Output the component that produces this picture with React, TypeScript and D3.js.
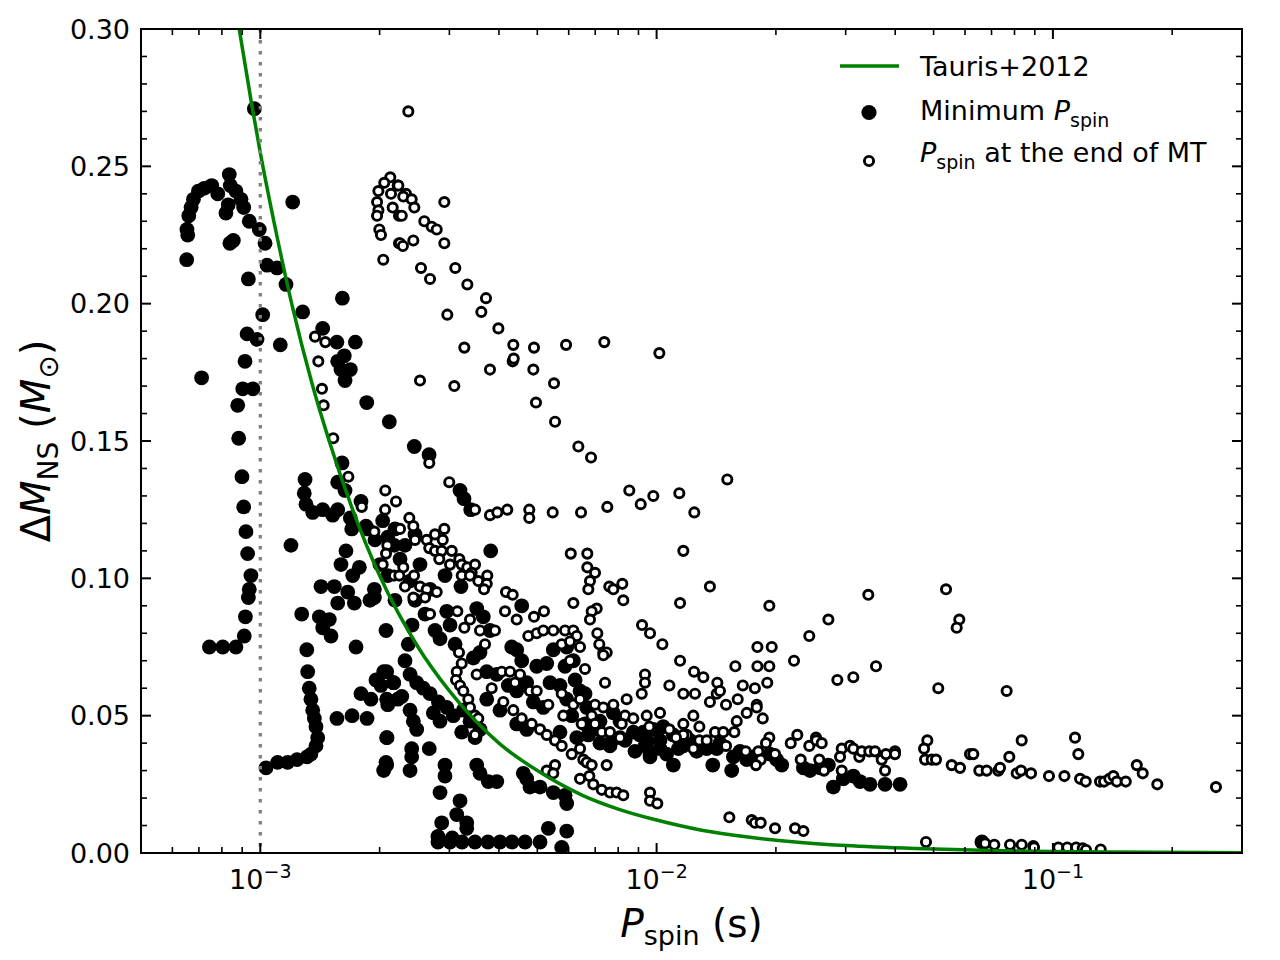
import * as d3 from "d3";

// P_spin in ms, Delta M_NS in M_sun
type Pt = [number, number];

// Minimum P_spin, track near 1 ms
const minSpinNear1ms: Pt[] = [
  [0.966, 0.271], [0.652, 0.216], [0.656, 0.225], [0.653, 0.227], [0.66, 0.232], [0.669, 0.235],
  [0.678, 0.238], [0.698, 0.241], [0.722, 0.242], [0.754, 0.243], [0.781, 0.24], [0.835, 0.247],
  [0.84, 0.243], [0.868, 0.241], [0.894, 0.238], [0.908, 0.235], [0.819, 0.233], [0.83, 0.236],
  [0.855, 0.223], [0.838, 0.222], [0.938, 0.23], [0.994, 0.227], [1.028, 0.222], [1.04, 0.214],
  [1.102, 0.213], [1.161, 0.207], [0.933, 0.209], [1.207, 0.237], [1.611, 0.202], [1.014, 0.196],
  [1.279, 0.197], [0.926, 0.189], [0.981, 0.187], [1.123, 0.185], [1.437, 0.191], [1.561, 0.186],
  [1.737, 0.186], [0.915, 0.179], [0.711, 0.173], [0.903, 0.169], [0.958, 0.169], [0.877, 0.163],
  [0.882, 0.151], [0.899, 0.137], [0.908, 0.126], [0.92, 0.117], [0.929, 0.109], [0.947, 0.101],
  [0.938, 0.096], [0.933, 0.093], [0.917, 0.086], [0.911, 0.079], [0.868, 0.075], [0.804, 0.075],
  [0.744, 0.075],
];

// Minimum P_spin, 1.2-2.2 ms
const minSpinBand: Pt[] = [
  [1.568, 0.179], [1.629, 0.181], [1.598, 0.176], [1.687, 0.176], [1.636, 0.172], [1.856, 0.164],
  [2.116, 0.157], [1.608, 0.142], [1.297, 0.136], [1.568, 0.135], [1.636, 0.132], [1.291, 0.131],
  [1.304, 0.127], [1.356, 0.124], [1.437, 0.125], [1.523, 0.123], [1.568, 0.125], [1.687, 0.122],
  [1.795, 0.128], [1.701, 0.118], [1.866, 0.118], [1.195, 0.112], [1.645, 0.11], [1.598, 0.105],
  [1.778, 0.104], [1.711, 0.101], [1.423, 0.097], [1.537, 0.097], [1.662, 0.095], [1.94, 0.096],
  [2.097, 0.101], [2.178, 0.112], [2.097, 0.115], [2.036, 0.121], [1.272, 0.087], [1.409, 0.086],
  [1.493, 0.085], [1.437, 0.082], [1.508, 0.079], [1.568, 0.091], [1.727, 0.091], [1.94, 0.093],
  [2.076, 0.081], [1.744, 0.075],
  [1.31, 0.074], [1.317, 0.066], [1.329, 0.06], [1.342, 0.056], [1.356, 0.052], [1.369, 0.049],
  [1.382, 0.046], [1.396, 0.042], [1.382, 0.039], [1.342, 0.036], [1.312, 0.035], [1.238, 0.034],
  [1.172, 0.033], [1.106, 0.033], [1.034, 0.031],
  [1.561, 0.049], [1.704, 0.05], [1.859, 0.049], [1.795, 0.058], [1.902, 0.056], [2.016, 0.061],
  [1.958, 0.063], [2.048, 0.066], [2.171, 0.062], [2.097, 0.054], [2.222, 0.056], [2.088, 0.042],
  [2.076, 0.033], [2.048, 0.03],
];

// Minimum P_spin, 2-4 ms
const minSpinCluster: Pt[] = [
  [2.447, 0.148], [2.666, 0.145], [3.191, 0.132], [3.266, 0.129], [3.396, 0.125], [3.814, 0.11],
  [2.925, 0.101], [3.209, 0.097], [4.567, 0.09], [3.517, 0.089], [3.653, 0.086], [2.954, 0.088],
  [1.848, 0.119], [1.947, 0.114], [2.187, 0.118], [2.318, 0.112], [2.457, 0.116], [2.252, 0.107],
  [2.529, 0.105], [2.387, 0.099], [2.681, 0.096], [2.457, 0.092], [2.604, 0.087], [2.415, 0.083],
  [2.76, 0.081], [2.187, 0.092], [1.891, 0.092], [2.004, 0.105], [3.011, 0.083], [2.841, 0.078],
  [2.363, 0.076], [2.318, 0.07], [2.387, 0.065], [2.481, 0.062], [2.578, 0.06], [2.681, 0.058],
  [2.814, 0.055], [2.954, 0.053], [3.069, 0.05], [2.841, 0.048], [2.733, 0.051], [2.084, 0.066],
  [2.166, 0.062], [2.084, 0.056], [2.275, 0.057], [2.387, 0.052], [2.433, 0.048], [2.481, 0.045],
  [2.084, 0.042], [2.41, 0.038], [2.669, 0.038], [2.41, 0.035], [2.084, 0.032], [2.387, 0.03],
  [2.924, 0.032], [2.924, 0.028], [2.841, 0.022], [3.191, 0.019], [3.516, 0.032], [3.584, 0.029],
  [3.761, 0.026], [3.951, 0.026],
  [2.869, 0.011], [3.131, 0.014], [3.318, 0.011], [3.318, 0.009], [5.331, 0.009], [5.932, 0.008],
  [5.761, 0.002], [2.807, 0.004], [3.01, 0.004], [3.228, 0.004], [3.481, 0.004], [3.753, 0.004],
  [4.025, 0.004], [4.316, 0.004], [4.656, 0.004], [5.08, 0.004], [2.807, 0.006], [3.05, 0.0055],
];

// Minimum P_spin, 4-10 ms
const minSpinMid: Pt[] = [
  [4.609, 0.029], [4.791, 0.024], [5.078, 0.024], [5.487, 0.022], [5.874, 0.021], [5.932, 0.018],
  [4.701, 0.027], [3.1, 0.076], [3.448, 0.071], [3.584, 0.073], [3.798, 0.081], [4.309, 0.075],
  [4.567, 0.07], [4.983, 0.068], [5.281, 0.069], [3.951, 0.065], [3.727, 0.066], [4.224, 0.061],
  [4.436, 0.059], [4.701, 0.062], [4.886, 0.055], [5.177, 0.053], [5.383, 0.062], [5.704, 0.061],
  [5.932, 0.056], [6.409, 0.059], [6.663, 0.053], [6.165, 0.07], [5.932, 0.075], [4.025, 0.052],
  [4.436, 0.047], [4.701, 0.045], [5.704, 0.044], [6.288, 0.042], [6.725, 0.043], [7.776, 0.051],
  [8.085, 0.042], [8.735, 0.044], [9.441, 0.04], [9.625, 0.036], [3.727, 0.056], [3.253, 0.052],
  [3.382, 0.048], [3.584, 0.045], [3.223, 0.044], [3.482, 0.042], [5.487, 0.074], [4.436, 0.074],
  [5.874, 0.068], [6.227, 0.063], [6.597, 0.058], [7.196, 0.048], [8.085, 0.048], [9.081, 0.043],
  [7.196, 0.04], [7.626, 0.039], [8.326, 0.041], [8.822, 0.037], [6.106, 0.05], [6.597, 0.047],
  [7.112, 0.045], [7.72, 0.041], [9.348, 0.039],
];

// Minimum P_spin, 10-70 ms
const minSpinLong: Pt[] = [
  [9.441, 0.041], [9.625, 0.035], [10.2, 0.041], [11.02, 0.032], [10.6, 0.036], [11.68, 0.039],
  [12.14, 0.041], [12.62, 0.037], [13.38, 0.038], [14.18, 0.038], [14.45, 0.04], [15.47, 0.03],
  [15.62, 0.035], [16.23, 0.037], [16.88, 0.034], [17.54, 0.035], [19.32, 0.036], [20.69, 0.032],
  [20.09, 0.034], [23.46, 0.031], [24.38, 0.03], [25.84, 0.031], [27.13, 0.032], [27.92, 0.024],
  [29.58, 0.027], [31.36, 0.028], [32.61, 0.026], [34.55, 0.025], [37.71, 0.025], [41.14, 0.025],
  [9.257, 0.044], [9.811, 0.045], [10.39, 0.046], [11.02, 0.043], [11.35, 0.038], [13.86, 0.032],
  [10.2, 0.038], [66.2, 0.004],
];

// P_spin at the end of mass transfer, short periods
const endSpinShort: Pt[] = [
  [2.128, 0.246], [2.055, 0.244], [1.986, 0.241], [1.971, 0.237], [1.986, 0.234], [1.971, 0.232],
  [1.997, 0.227], [2.016, 0.225], [2.043, 0.216], [2.137, 0.24], [2.158, 0.235], [2.222, 0.243],
  [2.239, 0.232], [2.239, 0.222], [1.374, 0.188], [1.459, 0.186], [2.363, 0.27], [2.23, 0.243],
  [2.331, 0.24], [2.295, 0.239], [2.41, 0.238], [2.447, 0.235], [2.275, 0.232], [2.913, 0.237],
  [2.593, 0.23], [2.707, 0.228], [2.787, 0.227], [2.252, 0.222], [2.29, 0.221], [2.433, 0.223],
  [2.913, 0.222], [2.544, 0.213], [3.105, 0.213], [2.681, 0.209], [3.33, 0.207], [3.711, 0.202],
  [2.964, 0.196], [3.612, 0.197], [3.988, 0.191], [3.272, 0.184], [4.349, 0.185], [4.905, 0.184],
  [5.909, 0.185], [7.379, 0.186], [10.16, 0.182], [4.334, 0.179], [4.36, 0.18], [3.798, 0.176],
  [4.886, 0.176], [5.51, 0.171], [2.529, 0.172], [3.087, 0.17], [4.962, 0.164], [5.543, 0.157],
  [6.346, 0.148], [6.832, 0.144], [2.669, 0.142], [2.998, 0.135], [2.067, 0.132], [2.2, 0.128],
  [2.065, 0.125], [2.377, 0.122], [2.433, 0.119], [3.482, 0.125], [3.798, 0.123], [3.963, 0.124],
  [4.2, 0.125], [4.772, 0.125], [4.772, 0.122], [5.468, 0.124], [6.447, 0.124], [7.509, 0.126],
  [8.533, 0.132], [9.118, 0.127], [9.811, 0.13], [6.073, 0.109], [6.686, 0.109], [6.686, 0.104],
  [6.992, 0.102], [6.79, 0.099], [6.725, 0.096], [7.597, 0.097], [7.776, 0.096], [8.194, 0.098],
  [8.241, 0.092], [6.165, 0.091], [7.061, 0.089], [6.858, 0.088], [6.79, 0.085], [9.189, 0.083],
  [1.401, 0.179], [1.431, 0.169], [1.445, 0.163], [1.528, 0.151], [1.668, 0.137], [1.803, 0.126],
  [1.94, 0.117], [2.23, 0.118],
];

// P_spin at the end of mass transfer, dense cluster 2-10 ms
const endSpinCluster: Pt[] = [
  [2.252, 0.118], [2.457, 0.114], [2.63, 0.114], [2.76, 0.116], [2.913, 0.118], [2.886, 0.114],
  [2.669, 0.111], [2.76, 0.11], [2.869, 0.11], [3.041, 0.11], [2.829, 0.107], [3.178, 0.107],
  [3.011, 0.105], [3.223, 0.105], [3.33, 0.104], [3.482, 0.105], [3.415, 0.102], [3.739, 0.101],
  [3.223, 0.101], [3.382, 0.101], [3.549, 0.099], [3.727, 0.098], [3.669, 0.096], [4.169, 0.095],
  [4.334, 0.094], [2.092, 0.112], [2.076, 0.109], [2.036, 0.105], [2.295, 0.104], [2.175, 0.101],
  [2.243, 0.101], [2.443, 0.101], [2.318, 0.097], [2.529, 0.097], [2.63, 0.096], [2.433, 0.093],
  [2.604, 0.093], [2.787, 0.095], [4.145, 0.088], [3.142, 0.088], [2.681, 0.087], [4.436, 0.085],
  [4.905, 0.086], [5.198, 0.088], [3.382, 0.085],
  [3.272, 0.082], [3.584, 0.081], [3.91, 0.081], [3.69, 0.076], [3.172, 0.073], [3.223, 0.069],
  [3.131, 0.066], [3.118, 0.063], [3.191, 0.061], [3.253, 0.059], [3.349, 0.056], [3.382, 0.053],
  [3.482, 0.05], [3.549, 0.049], [3.482, 0.043], [3.516, 0.065], [3.836, 0.06], [4.066, 0.066],
  [4.267, 0.066], [4.392, 0.062], [4.521, 0.065], [4.104, 0.055], [4.349, 0.052], [4.567, 0.049],
  [4.84, 0.047], [5.08, 0.045], [5.281, 0.043], [5.542, 0.041], [5.761, 0.039], [6.107, 0.036],
  [6.409, 0.038], [6.531, 0.034], [6.663, 0.033], [6.858, 0.032], [7.482, 0.032], [5.542, 0.032],
  [5.281, 0.03], [5.487, 0.029], [6.409, 0.027], [6.765, 0.028], [6.923, 0.025], [7.27, 0.023],
  [7.626, 0.022], [7.93, 0.022], [8.241, 0.021], [9.625, 0.022], [9.625, 0.019], [10.04, 0.018],
  [4.745, 0.079], [4.983, 0.08], [5.177, 0.081], [5.487, 0.081], [5.874, 0.081], [6.165, 0.081],
  [6.288, 0.079], [5.761, 0.076], [6.046, 0.077], [6.409, 0.075], [7.087, 0.08], [7.169, 0.076],
  [7.338, 0.073], [7.482, 0.073], [6.046, 0.07], [6.597, 0.067], [7.411, 0.062], [8.404, 0.056],
  [9.172, 0.058], [9.348, 0.065], [9.348, 0.062], [9.625, 0.08], [4.788, 0.059], [4.983, 0.059],
  [5.331, 0.054], [5.761, 0.058], [5.815, 0.05], [6.165, 0.054], [6.409, 0.056], [6.471, 0.047],
  [6.858, 0.05], [6.992, 0.054], [7.338, 0.053], [7.776, 0.054], [7.27, 0.044], [7.626, 0.044],
  [8.085, 0.042], [8.326, 0.05], [8.735, 0.049], [9.441, 0.05], [8.164, 0.047], [9.585, 0.046],
  [7.338, 0.072], [11.91, 0.043], [6.992, 0.047],
];

// P_spin at the end of mass transfer, 10-260 ms
const endSpinLong: Pt[] = [
  [11.41, 0.131], [15.08, 0.136], [12.45, 0.124], [11.68, 0.11], [13.63, 0.097], [11.46, 0.091],
  [19.25, 0.09], [34.21, 0.094], [53.74, 0.096], [58.05, 0.085], [57.18, 0.082], [10.34, 0.076],
  [11.46, 0.07], [27.13, 0.085], [24.28, 0.079], [17.96, 0.075], [19.52, 0.075], [22.22, 0.07],
  [15.8, 0.068], [17.96, 0.068], [19.25, 0.068], [35.78, 0.068], [12.43, 0.066], [13.12, 0.064],
  [28.58, 0.063], [31.36, 0.064], [14.23, 0.062], [19.02, 0.062], [16.5, 0.061], [17.7, 0.06],
  [10.77, 0.061], [51.37, 0.06],
  [11.68, 0.058], [12.5, 0.058], [13.63, 0.055], [14.18, 0.058], [14.45, 0.059], [14.97, 0.054],
  [16.02, 0.056], [17.89, 0.054], [17.89, 0.053], [16.88, 0.051], [18.53, 0.049], [15.93, 0.048],
  [10.2, 0.051], [11.68, 0.047], [12.38, 0.05], [12.82, 0.046], [10.77, 0.045], [14.04, 0.044],
  [14.73, 0.044], [15.71, 0.044], [11.68, 0.043], [11.19, 0.042], [12.82, 0.041], [13.38, 0.041],
  [12.38, 0.038], [14.97, 0.039], [16.78, 0.037], [18.06, 0.037], [18.31, 0.034], [17.81, 0.032],
  [19.25, 0.042], [18.88, 0.04], [19.9, 0.036], [21.8, 0.04], [22.65, 0.043], [24.28, 0.039],
  [25.25, 0.042], [25.29, 0.041], [26.1, 0.04], [23.1, 0.034], [25.73, 0.034], [26.45, 0.03],
  [29.32, 0.038], [30.76, 0.039], [31.36, 0.038], [29.03, 0.035], [32.47, 0.035], [32.93, 0.037],
  [34.41, 0.037], [35.57, 0.037], [36.98, 0.034], [37.91, 0.036], [39.95, 0.037], [39.95, 0.036],
  [37.71, 0.03], [29.32, 0.03], [48.21, 0.041], [47.3, 0.038], [47.57, 0.034], [49.45, 0.034],
  [50.7, 0.034], [55.54, 0.032], [58.29, 0.031], [61.77, 0.036],
  [15.26, 0.013], [17.38, 0.012], [17.71, 0.011], [18.31, 0.011], [19.9, 0.009], [22.35, 0.009],
  [23.46, 0.008], [47.84, 0.004],
  [76.43, 0.059], [62.97, 0.036], [65.2, 0.03], [68.07, 0.03], [72.81, 0.03], [73.54, 0.031],
  [77.62, 0.035], [83.41, 0.041], [81.03, 0.029], [83.09, 0.03], [88.06, 0.029], [97.74, 0.028],
  [106.9, 0.028], [113.7, 0.042], [115.9, 0.036], [117.1, 0.027], [121.0, 0.026], [131.5, 0.026],
  [134.6, 0.026], [138.8, 0.027], [142.1, 0.028], [144.9, 0.026], [152.7, 0.026], [162.8, 0.032],
  [168.5, 0.029], [183.4, 0.025], [257.9, 0.024],
  [67.42, 0.0035], [71.14, 0.003], [77.95, 0.003], [83.42, 0.003], [89.24, 0.0025], [89.6, 0.002],
  [103.2, 0.002], [108.7, 0.002], [114.4, 0.002], [118.9, 0.0017], [121.2, 0.0011], [132.0, 0.0013],
];

// Tauris+2012 curve
const taurisCurve: Pt[] = [
  [0.88, 0.302], [0.95, 0.273], [1.0, 0.255], [1.1, 0.225], [1.2, 0.2], [1.35, 0.171],
  [1.5, 0.149], [1.7, 0.126], [2.0, 0.101], [2.5, 0.075], [3.0, 0.059], [4.0, 0.04],
  [5.0, 0.03], [6.5, 0.021], [8.0, 0.016], [10, 0.012], [13, 0.0083], [17, 0.0058],
  [22, 0.0041], [30, 0.0027], [45, 0.0016], [70, 0.00088], [110, 0.00048], [180, 0.00025],
  [300, 0.00013],
];

const refSpinMs = 1.0;
const xDecades = [1e-3, 1e-2, 1e-1];
const xDecadeExp = ["\u22123", "\u22122", "\u22121"];

const minSpin = [...minSpinNear1ms, ...minSpinBand, ...minSpinCluster, ...minSpinMid, ...minSpinLong];
const endSpin = [...endSpinShort, ...endSpinCluster, ...endSpinLong];

const FONT = "DejaVu Sans, Verdana, sans-serif";

export default function App() {
  const width = 1280;
  const height = 960;
  const margin = { top: 29, right: 38, bottom: 107, left: 141 };
  const left = margin.left;
  const right = width - margin.right;
  const top = margin.top;
  const bottom = height - margin.bottom;

  const x = d3.scaleLog().domain([5e-4, 0.3]).range([left, right]);
  const y = d3.scaleLinear().domain([0, 0.3]).range([bottom, top]);
  const px = (ms: number) => x(ms / 1000);

  const line = d3
    .line<Pt>()
    .x((d) => px(d[0]))
    .y((d) => y(d[1]))
    .curve(d3.curveMonotoneX);

  const xMinor = x
    .ticks()
    .filter((t) => Math.abs(Math.log10(t) - Math.round(Math.log10(t))) > 1e-6);
  const yMajor = y.ticks(6);
  const yMinor = y.ticks(30);
  const fmt = d3.format(".2f");

  const majorLen = 10;
  const minorLen = 6;

  return (
    <div>
      <style>{"body{margin:0}"}</style>
      <svg width={width} height={height} viewBox={`0 0 ${width} ${height}`} fontFamily={FONT}>
        <rect width={width} height={height} fill="#ffffff" />
        <defs>
          <clipPath id="plot-clip">
            <rect x={left} y={top} width={right - left} height={bottom - top} />
          </clipPath>
        </defs>

        {/* Minimum P_spin */}
        <g clipPath="url(#plot-clip)">
          {minSpin.map((d, i) => (
            <circle key={`f${i}`} cx={px(d[0])} cy={y(d[1])} r={7.4} fill="#000000" />
          ))}
          {/* P_spin at end of MT */}
          {endSpin.map((d, i) => (
            <circle
              key={`o${i}`}
              cx={px(d[0])}
              cy={y(d[1])}
              r={4.6}
              fill="#ffffff"
              stroke="#000000"
              strokeWidth={2.9}
            />
          ))}
          <path d={line(taurisCurve) || ""} fill="none" stroke="#008000" strokeWidth={3.5} />
          <line
            x1={px(refSpinMs)}
            x2={px(refSpinMs)}
            y1={top}
            y2={bottom}
            stroke="#808080"
            strokeWidth={3.3}
            strokeDasharray="3.5,7.5"
          />
        </g>

        {/* ticks */}
        <g stroke="#000000">
          {xDecades.map((t) => (
            <g key={`xM${t}`} strokeWidth={2}>
              <line x1={x(t)} x2={x(t)} y1={bottom} y2={bottom - majorLen} />
              <line x1={x(t)} x2={x(t)} y1={top} y2={top + majorLen} />
            </g>
          ))}
          {xMinor.map((t) => (
            <g key={`xm${t}`} strokeWidth={1.6}>
              <line x1={x(t)} x2={x(t)} y1={bottom} y2={bottom - minorLen} />
              <line x1={x(t)} x2={x(t)} y1={top} y2={top + minorLen} />
            </g>
          ))}
          {yMinor.map((t) => {
            const major = yMajor.some((m) => Math.abs(m - t) < 1e-9);
            const len = major ? majorLen : minorLen;
            return (
              <g key={`y${t}`} strokeWidth={major ? 2 : 1.6}>
                <line x1={left} x2={left + len} y1={y(t)} y2={y(t)} />
                <line x1={right} x2={right - len} y1={y(t)} y2={y(t)} />
              </g>
            );
          })}
        </g>

        <rect
          x={left}
          y={top}
          width={right - left}
          height={bottom - top}
          fill="none"
          stroke="#000000"
          strokeWidth={2}
        />

        {/* tick labels */}
        {yMajor.map((t) => (
          <text key={`yl${t}`} x={left - 11} y={y(t)} dy="0.36em" textAnchor="end" fontSize={27}>
            {fmt(t)}
          </text>
        ))}
        {xDecades.map((t, i) => (
          <text key={`xl${t}`} x={x(t)} y={889} textAnchor="middle" fontSize={27}>
            10
            <tspan fontSize={19} dy={-11}>
              {xDecadeExp[i]}
            </tspan>
          </text>
        ))}

        {/* axis labels */}
        <text x={(left + right) / 2} y={937} textAnchor="middle" fontSize={39}>
          <tspan fontStyle="italic">P</tspan>
          <tspan fontSize={27} dy={8}>spin</tspan>
          <tspan dy={-8}>{" (s)"}</tspan>
        </text>
        <text transform={`translate(50,${(top + bottom) / 2}) rotate(-90)`} textAnchor="middle" fontSize={40}>
          {"\u0394"}
          <tspan fontStyle="italic">M</tspan>
          <tspan fontSize={28} dy={8}>NS</tspan>
          <tspan dy={-8}>{" ("}</tspan>
          <tspan fontStyle="italic">M</tspan>
          <tspan fontSize={28} dy={8}>{"\u2299"}</tspan>
          <tspan dy={-8}>)</tspan>
        </text>

        {/* legend */}
        <g fontSize={27}>
          <line x1={840} x2={899} y1={66} y2={66} stroke="#008000" strokeWidth={3.5} />
          <text x={920} y={76}>Tauris+2012</text>
          <circle cx={869} cy={112.5} r={7.6} fill="#000000" />
          <text x={920} y={120}>
            {"Minimum "}
            <tspan fontStyle="italic">P</tspan>
            <tspan fontSize={19} dy={7}>spin</tspan>
          </text>
          <circle cx={869} cy={161} r={4.6} fill="#ffffff" stroke="#000000" strokeWidth={2.9} />
          <text x={920} y={162}>
            <tspan fontStyle="italic">P</tspan>
            <tspan fontSize={19} dy={7}>spin</tspan>
            <tspan dy={-7}>{" at the end of MT"}</tspan>
          </text>
        </g>
      </svg>
    </div>
  );
}
